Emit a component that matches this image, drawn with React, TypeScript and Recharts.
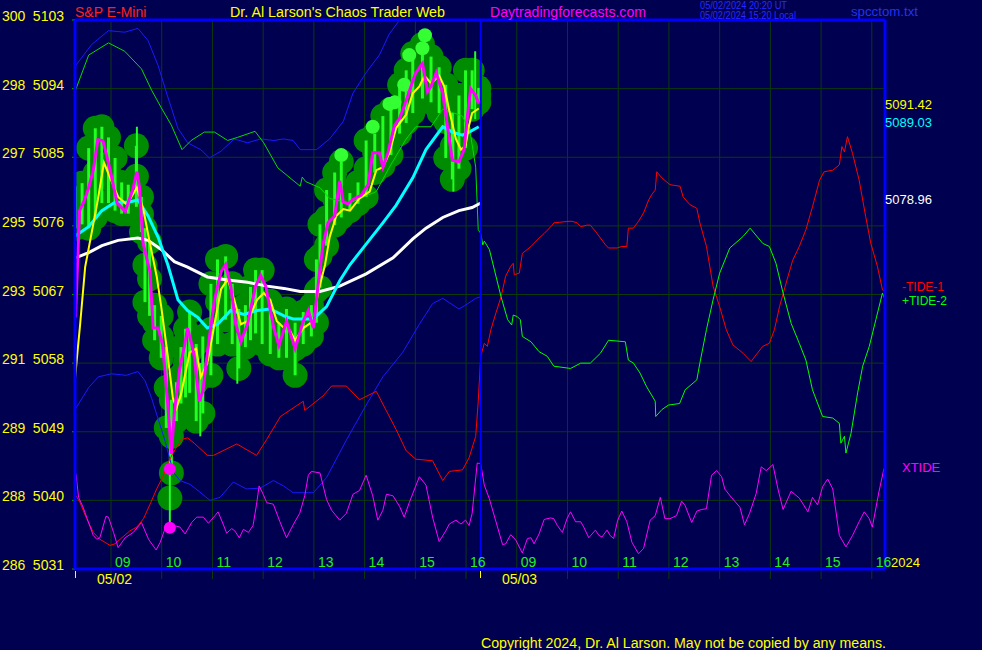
import {
  CartesianGrid,
  ComposedChart,
  ErrorBar,
  Line,
  ReferenceLine,
  Scatter,
  XAxis,
  YAxis,
} from "recharts";

document.body.style.margin = "0";
document.body.style.background = "#000050";

type Pt = [number, number];
type Range = [number, number, number]; // time, high, low

// time axis: hour slots, 0 = 09:00 on 05/02, 8 = 09:00 on 05/03
const HOUR_TICKS = [0, 1, 2, 3, 4, 5, 6, 7, 8, 9, 10, 11, 12, 13, 14, 15];
const HOUR_LABELS = ["09", "10", "11", "12", "13", "14", "15", "16", "09", "10", "11", "12", "13", "14", "15", "16"];
const PRICE_TICKS = [5031, 5040, 5049, 5058, 5067, 5076, 5085, 5094, 5103];
const ALT_TICKS = ["286", "288", "289", "291", "293", "295", "297", "298", "300"];
const X_MIN = -0.71;
const X_MAX = 15.26;
const NOW_T = 7.29;

const upperBlue: Pt[] = [
  [-0.7, 5097.0], [-0.38, 5099.8], [-0.05, 5101.6], [0.27, 5101.4], [0.53, 5101.9], [0.73, 5100.3],
  [0.93, 5097.0], [1.12, 5092.9], [1.32, 5088.8], [1.51, 5086.9], [1.77, 5086.0], [1.94, 5084.9],
  [2.17, 5085.8], [2.43, 5087.4], [2.69, 5086.9], [2.95, 5087.4], [3.21, 5087.2], [3.4, 5087.4],
  [3.59, 5087.2], [3.73, 5086.0], [4.05, 5086.0], [4.31, 5087.4], [4.58, 5089.7], [4.77, 5093.4],
  [5.03, 5096.1], [5.29, 5098.4], [5.49, 5101.2], [5.69, 5103.0], [5.9, 5105.5],
];

const lowerBlue: Pt[] = [
  [-0.7, 5052.0], [-0.44, 5054.8], [-0.25, 5056.2], [0.01, 5056.6], [0.3, 5056.4], [0.53, 5056.9],
  [0.67, 5055.7], [0.8, 5053.4], [1.06, 5047.9], [1.23, 5043.7], [1.36, 5042.6], [1.56, 5042.1],
  [1.75, 5041.1], [1.95, 5040.0], [2.15, 5040.4], [2.41, 5042.4], [2.67, 5041.5], [2.94, 5041.6],
  [3.2, 5042.6], [3.4, 5041.9], [3.59, 5041.0], [3.99, 5041.0], [4.25, 5043.0], [4.64, 5047.9],
  [5.03, 5052.5], [5.36, 5056.2], [5.75, 5059.4], [6.08, 5063.1], [6.34, 5065.8], [6.54, 5066.5],
  [6.86, 5065.1], [6.99, 5065.6], [7.19, 5066.5], [7.29, 5066.7],
];

const greenBand: Pt[] = [
  [-0.7, 5093.8], [-0.44, 5098.4], [-0.05, 5100.0], [0.27, 5098.9], [0.6, 5096.6], [0.8, 5093.8],
  [0.99, 5091.5], [1.19, 5089.2], [1.4, 5086.0], [1.58, 5087.2], [1.84, 5088.3], [2.04, 5088.3],
  [2.3, 5087.2], [2.49, 5087.6], [2.84, 5088.4], [3.01, 5086.9], [3.29, 5083.6], [3.73, 5081.2],
  [3.77, 5082.4], [3.84, 5081.8], [4.12, 5081.0], [4.31, 5079.6], [4.7, 5079.0], [5.23, 5080.5],
  [5.49, 5083.7], [5.82, 5087.4], [6.01, 5089.0], [6.31, 5089.0], [6.54, 5091.3], [6.93, 5090.4],
  [7.09, 5087.9], [7.19, 5083.7], [7.24, 5075.5], [7.29, 5075.0],
];

const redBand: Pt[] = [
  [-0.69, 5040.6], [-0.61, 5039.7], [-0.48, 5037.6], [-0.35, 5035.8], [-0.22, 5034.9], [-0.02, 5034.1],
  [0.08, 5034.3], [0.18, 5034.9], [0.37, 5036.0], [0.51, 5036.5], [0.64, 5037.6], [0.77, 5039.5],
  [0.9, 5041.5], [1.03, 5043.2], [1.13, 5045.0], [1.23, 5046.3], [1.39, 5048.0], [1.51, 5048.2],
  [1.64, 5047.5], [1.9, 5045.9], [2.02, 5045.9], [2.48, 5047.4], [2.87, 5045.9], [3.07, 5048.0],
  [3.34, 5051.0], [3.79, 5053.0], [3.82, 5051.8], [4.18, 5053.7], [4.35, 5055.0], [4.64, 5055.0],
  [4.9, 5053.2], [5.23, 5054.3], [5.62, 5049.3], [5.82, 5046.5], [6.01, 5045.4], [6.34, 5045.2],
  [6.54, 5042.6], [6.67, 5043.8], [6.93, 5044.0], [7.06, 5045.6], [7.19, 5048.4], [7.24, 5053.0],
  [7.29, 5058.9],
];

const tide1: Pt[] = [
  [7.29, 5058.9], [7.36, 5060.6], [7.42, 5060.2], [7.49, 5062.4], [7.59, 5064.6], [7.69, 5066.7],
  [7.78, 5069.4], [7.88, 5070.7], [7.93, 5071.1], [7.95, 5069.6], [8.05, 5069.8], [8.11, 5072.4],
  [8.28, 5073.3], [8.44, 5074.4], [8.54, 5075.0], [8.7, 5076.1], [8.73, 5076.4], [9.03, 5076.6],
  [9.09, 5076.6], [9.19, 5076.4], [9.26, 5075.9], [9.39, 5076.1], [9.45, 5076.1], [9.55, 5075.3],
  [9.75, 5073.5], [9.81, 5073.1], [9.98, 5073.1], [10.07, 5073.3], [10.17, 5073.3], [10.2, 5075.7],
  [10.3, 5075.7], [10.4, 5076.6], [10.5, 5077.7], [10.6, 5079.4], [10.66, 5080.1], [10.73, 5080.7],
  [10.76, 5083.1], [10.86, 5082.3], [11.02, 5081.4], [11.22, 5081.2], [11.28, 5079.8], [11.41, 5078.8],
  [11.55, 5078.3], [11.61, 5076.4], [11.74, 5073.3], [11.87, 5068.1], [12.0, 5065.4], [12.13, 5062.4],
  [12.26, 5060.4], [12.46, 5059.3], [12.62, 5058.2], [12.72, 5059.1], [12.85, 5060.2], [12.98, 5060.6],
  [13.08, 5062.4], [13.18, 5065.4], [13.31, 5068.5], [13.44, 5071.5], [13.57, 5073.3], [13.7, 5075.5],
  [13.83, 5078.5], [13.97, 5082.0], [14.06, 5083.1], [14.23, 5083.3], [14.36, 5084.0], [14.41, 5086.4],
  [14.46, 5085.7], [14.52, 5087.7], [14.62, 5085.5], [14.75, 5082.0], [14.88, 5077.2], [14.98, 5073.7],
  [15.11, 5070.7], [15.21, 5067.6], [15.26, 5067.4],
];

const tide2: Pt[] = [
  [7.29, 5075.0], [7.33, 5073.5], [7.36, 5074.0], [7.46, 5072.9], [7.56, 5070.2], [7.69, 5066.7],
  [7.82, 5063.7], [7.9, 5063.0], [7.93, 5064.3], [8.01, 5064.1], [8.07, 5063.7], [8.11, 5061.5],
  [8.28, 5060.8], [8.44, 5059.5], [8.6, 5058.9], [8.73, 5057.6], [9.06, 5057.3], [9.26, 5058.0],
  [9.45, 5058.0], [9.65, 5059.3], [9.81, 5061.0], [10.14, 5060.8], [10.2, 5058.4], [10.3, 5058.0],
  [10.43, 5056.7], [10.56, 5054.9], [10.73, 5053.0], [10.74, 5051.0], [10.86, 5051.9], [10.99, 5052.5],
  [11.21, 5052.7], [11.32, 5054.5], [11.55, 5055.8], [11.61, 5058.0], [11.74, 5062.4], [11.87, 5066.3],
  [12.0, 5069.8], [12.2, 5073.1], [12.46, 5074.6], [12.6, 5075.7], [12.85, 5073.7], [12.98, 5073.3],
  [13.11, 5071.1], [13.25, 5067.2], [13.41, 5063.2], [13.57, 5060.6], [13.7, 5058.4], [13.83, 5054.5],
  [14.03, 5051.0], [14.23, 5050.8], [14.36, 5050.1], [14.39, 5047.5], [14.46, 5048.4], [14.49, 5046.2],
  [14.59, 5048.8], [14.72, 5054.1], [14.82, 5057.6], [14.95, 5060.2], [15.08, 5063.7], [15.21, 5067.2],
  [15.26, 5066.3],
];

const xtide: Pt[] = [
  [-0.69, 5043.5], [-0.64, 5040.4], [-0.55, 5039.1], [-0.47, 5037.6], [-0.35, 5035.4], [-0.28, 5034.9],
  [-0.22, 5035.1], [-0.1, 5037.9], [-0.05, 5037.8], [0.05, 5035.8], [0.14, 5033.8], [0.28, 5035.1],
  [0.44, 5035.8], [0.6, 5037.1], [0.74, 5034.9], [0.89, 5033.5], [0.97, 5034.5], [1.06, 5036.2],
  [1.16, 5036.6], [1.23, 5036.7], [1.36, 5036.5], [1.46, 5035.6], [1.59, 5037.1], [1.69, 5037.8],
  [1.82, 5037.8], [1.92, 5037.0], [2.05, 5038.0], [2.11, 5038.5], [2.21, 5036.9], [2.28, 5035.7],
  [2.38, 5036.3], [2.44, 5036.0], [2.53, 5035.1], [2.61, 5036.2], [2.71, 5035.8], [2.8, 5036.7],
  [2.87, 5039.5], [2.92, 5041.9], [3.0, 5040.8], [3.07, 5039.7], [3.2, 5039.5], [3.33, 5037.2],
  [3.46, 5035.1], [3.6, 5036.9], [3.72, 5038.3], [3.82, 5040.6], [3.89, 5043.3], [3.95, 5043.8],
  [4.12, 5043.6], [4.25, 5040.1], [4.35, 5038.7], [4.51, 5037.4], [4.64, 5038.3], [4.77, 5040.8],
  [4.9, 5041.3], [5.03, 5043.3], [5.16, 5040.6], [5.26, 5037.4], [5.36, 5038.7], [5.43, 5040.8],
  [5.56, 5040.6], [5.69, 5039.2], [5.78, 5037.8], [5.88, 5039.7], [6.08, 5043.1], [6.21, 5042.0],
  [6.34, 5037.8], [6.47, 5034.6], [6.6, 5036.0], [6.67, 5036.9], [6.8, 5037.4], [6.9, 5036.9],
  [6.99, 5037.4], [7.06, 5036.7], [7.12, 5038.3], [7.22, 5044.9], [7.29, 5044.8], [7.36, 5042.0],
  [7.46, 5040.2], [7.59, 5037.2], [7.72, 5034.2], [7.78, 5034.3], [7.88, 5035.5], [7.98, 5034.8],
  [8.11, 5033.1], [8.21, 5035.0], [8.28, 5035.1], [8.34, 5034.3], [8.44, 5035.6], [8.54, 5037.5],
  [8.67, 5037.7], [8.73, 5037.6], [8.8, 5036.7], [8.9, 5035.8], [8.99, 5037.6], [9.06, 5038.5],
  [9.16, 5037.2], [9.26, 5037.2], [9.32, 5036.5], [9.42, 5035.1], [9.55, 5036.1], [9.62, 5035.4],
  [9.68, 5035.2], [9.78, 5036.1], [9.84, 5035.4], [9.91, 5035.0], [9.99, 5037.4], [10.07, 5038.6],
  [10.17, 5037.2], [10.27, 5034.5], [10.4, 5033.0], [10.5, 5033.7], [10.63, 5037.4], [10.73, 5038.0],
  [10.83, 5040.4], [10.92, 5037.6], [11.02, 5037.6], [11.15, 5038.0], [11.25, 5039.9], [11.32, 5039.3],
  [11.45, 5037.1], [11.55, 5038.6], [11.64, 5038.8], [11.74, 5038.9], [11.84, 5043.3], [11.94, 5043.9],
  [12.04, 5043.1], [12.1, 5041.5], [12.23, 5040.4], [12.4, 5039.1], [12.49, 5036.8], [12.59, 5038.3],
  [12.72, 5040.9], [12.82, 5044.4], [12.92, 5043.9], [13.05, 5044.7], [13.15, 5041.5], [13.25, 5038.8],
  [13.41, 5041.2], [13.57, 5040.3], [13.74, 5038.5], [13.83, 5040.4], [13.93, 5039.4], [14.03, 5041.8],
  [14.13, 5042.8], [14.23, 5041.5], [14.36, 5035.4], [14.49, 5033.9], [14.62, 5035.4], [14.75, 5037.2],
  [14.85, 5038.5], [14.95, 5037.6], [15.01, 5036.5], [15.14, 5041.1], [15.24, 5044.2],
];

const whiteAvg: Pt[] = [
  [-0.7, 5071.8], [-0.44, 5072.5], [-0.18, 5073.4], [0.14, 5074.1], [0.53, 5074.4], [0.73, 5074.1],
  [0.99, 5072.9], [1.25, 5071.3], [1.51, 5070.6], [1.9, 5069.3], [2.3, 5068.9], [2.69, 5068.6],
  [3.08, 5068.1], [3.41, 5067.8], [3.73, 5067.4], [4.12, 5067.4], [4.51, 5068.1], [5.03, 5069.7],
  [5.56, 5071.8], [5.95, 5074.3], [6.21, 5075.7], [6.54, 5077.1], [6.86, 5078.0], [7.12, 5078.4],
  [7.29, 5079.0],
];

const cyanAvg: Pt[] = [
  [-0.7, 5074.7], [-0.44, 5075.9], [-0.18, 5078.0], [0.08, 5079.1], [0.34, 5079.1], [0.53, 5079.4],
  [0.73, 5077.3], [0.93, 5074.5], [1.12, 5070.9], [1.32, 5066.3], [1.51, 5064.9], [1.71, 5064.0],
  [1.9, 5062.6], [2.1, 5063.1], [2.36, 5064.9], [2.62, 5064.4], [2.88, 5064.9], [3.14, 5065.1],
  [3.41, 5064.2], [3.59, 5063.8], [3.99, 5063.8], [4.25, 5065.4], [4.51, 5068.8], [4.71, 5070.9],
  [5.03, 5073.6], [5.36, 5076.4], [5.62, 5078.7], [5.95, 5082.3], [6.21, 5086.0], [6.54, 5089.0],
  [6.73, 5088.3], [6.93, 5087.9], [7.06, 5088.3], [7.25, 5089.0],
];

const yellowAvg: Pt[] = [
  [-0.71, 5056.0], [-0.61, 5063.0], [-0.51, 5070.6], [-0.37, 5075.5], [-0.26, 5079.4], [-0.14, 5084.3],
  [-0.06, 5083.0], [0.14, 5079.8], [0.31, 5078.8], [0.51, 5081.0], [0.64, 5078.1], [0.74, 5074.6],
  [0.9, 5069.4], [0.99, 5065.4], [1.12, 5058.9], [1.22, 5053.4], [1.29, 5052.1], [1.38, 5053.9],
  [1.55, 5059.4], [1.68, 5059.9], [1.77, 5056.2], [1.9, 5058.0], [2.04, 5063.1], [2.17, 5067.7],
  [2.3, 5069.0], [2.43, 5066.3], [2.56, 5063.1], [2.69, 5063.5], [2.88, 5066.3], [3.01, 5067.2],
  [3.14, 5066.3], [3.27, 5063.5], [3.41, 5062.6], [3.46, 5063.1], [3.63, 5061.0], [3.79, 5062.6],
  [3.99, 5063.5], [4.08, 5067.2], [4.22, 5070.9], [4.31, 5074.5], [4.44, 5077.3], [4.58, 5078.2],
  [4.71, 5078.0], [4.9, 5079.6], [5.1, 5080.5], [5.23, 5083.3], [5.36, 5083.7], [5.49, 5085.6],
  [5.62, 5088.8], [5.82, 5090.6], [5.95, 5093.4], [6.08, 5094.3], [6.18, 5095.7], [6.31, 5094.7],
  [6.47, 5095.7], [6.57, 5094.3], [6.67, 5091.1], [6.8, 5087.4], [6.9, 5086.0], [6.99, 5086.5],
  [7.06, 5089.2], [7.12, 5090.8], [7.25, 5091.4],
];

const magentaAvg: Pt[] = [
  [-0.7, 5064.0], [-0.62, 5078.0], [-0.54, 5079.1], [-0.44, 5081.0], [-0.35, 5083.3], [-0.26, 5087.3],
  [-0.16, 5087.2], [-0.02, 5083.4], [0.12, 5079.0], [0.28, 5077.9], [0.43, 5080.8], [0.51, 5083.1],
  [0.56, 5081.1], [0.63, 5073.8], [0.77, 5069.9], [0.83, 5062.6], [0.93, 5062.6], [1.02, 5060.3],
  [1.12, 5052.5], [1.19, 5046.1], [1.25, 5051.6], [1.35, 5057.1], [1.45, 5060.3], [1.51, 5062.6],
  [1.58, 5060.8], [1.64, 5058.9], [1.74, 5053.0], [1.81, 5054.3], [1.9, 5059.4], [2.04, 5066.3],
  [2.17, 5070.0], [2.26, 5070.9], [2.36, 5068.1], [2.46, 5063.1], [2.56, 5060.8], [2.69, 5063.1],
  [2.85, 5068.1], [2.95, 5069.5], [3.05, 5068.1], [3.21, 5062.6], [3.31, 5060.3], [3.46, 5063.5],
  [3.63, 5059.9], [3.79, 5063.5], [3.89, 5064.9], [3.99, 5062.6], [4.08, 5068.1], [4.18, 5073.6],
  [4.28, 5076.4], [4.41, 5077.3], [4.51, 5081.9], [4.58, 5079.1], [4.67, 5078.9], [4.8, 5079.6],
  [4.93, 5080.0], [5.07, 5081.4], [5.16, 5085.6], [5.29, 5085.6], [5.36, 5083.7], [5.46, 5085.6],
  [5.59, 5089.2], [5.69, 5090.1], [5.82, 5092.4], [5.95, 5095.0], [6.01, 5096.1], [6.14, 5097.3],
  [6.24, 5093.6], [6.31, 5094.3], [6.41, 5096.1], [6.54, 5093.4], [6.63, 5089.2], [6.73, 5084.6],
  [6.86, 5084.4], [6.96, 5086.0], [7.03, 5090.6], [7.09, 5094.0], [7.19, 5093.1], [7.25, 5092.0],
];

// price bars: time, high, low
const priceBars: Range[] = [
  [-0.7, 5081.2, 5075.7], [-0.57, 5081.6, 5076.2], [-0.44, 5086.2, 5075.7], [-0.31, 5088.8, 5077.1],
  [-0.18, 5089.0, 5079.0], [-0.05, 5087.6, 5079.0], [0.08, 5084.9, 5078.0], [0.21, 5081.7, 5077.6],
  [0.34, 5081.4, 5077.6], [0.5, 5086.5, 5078.5], [0.6, 5079.8, 5075.2], [0.67, 5075.7, 5066.0],
  [0.76, 5073.9, 5064.2], [0.86, 5065.6, 5061.0], [0.99, 5064.2, 5058.7], [1.09, 5060.1, 5049.5],
  [1.19, 5053.2, 5043.6], [1.29, 5055.5, 5050.4], [1.38, 5060.1, 5052.7], [1.47, 5062.5, 5053.5],
  [1.55, 5064.7, 5054.1], [1.68, 5060.5, 5050.4], [1.81, 5061.5, 5051.4], [1.97, 5068.4, 5056.4],
  [2.1, 5071.6, 5060.5], [2.26, 5072.0, 5063.7], [2.39, 5068.4, 5060.5], [2.52, 5065.1, 5057.3],
  [2.65, 5065.6, 5060.1], [2.75, 5068.0, 5061.0], [2.85, 5070.2, 5061.9], [2.98, 5070.2, 5060.5],
  [3.14, 5066.1, 5059.2], [3.31, 5063.3, 5058.7], [3.46, 5065.1, 5058.7], [3.63, 5063.3, 5056.4],
  [3.79, 5064.7, 5060.5], [3.95, 5065.6, 5061.5], [4.05, 5071.6, 5063.3], [4.12, 5076.2, 5067.9],
  [4.25, 5080.7, 5073.4], [4.41, 5083.0, 5076.1], [4.54, 5084.4, 5077.1], [4.71, 5080.3, 5078.0],
  [4.87, 5081.7, 5078.9], [5.03, 5087.2, 5079.8], [5.2, 5088.1, 5083.0], [5.36, 5090.4, 5083.9],
  [5.52, 5091.3, 5085.3], [5.69, 5094.5, 5088.1], [5.82, 5096.4, 5089.5], [5.95, 5098.6, 5090.8],
  [6.14, 5099.8, 5092.7], [6.31, 5098.2, 5092.2], [6.47, 5096.8, 5090.8], [6.6, 5094.5, 5084.9],
  [6.73, 5090.8, 5082.1], [6.86, 5093.1, 5083.5], [6.99, 5096.4, 5086.2], [7.12, 5096.4, 5091.3],
  [7.25, 5094.1, 5092.2],
];

const spikes: Range[] = [
  [0.51, 5089.0, 5080.0], [1.16, 5048.3, 5036.4], [1.76, 5058.0, 5048.4], [2.49, 5062.0, 5055.3],
  [6.75, 5088.0, 5080.5], [7.18, 5098.9, 5090.0],
];

const highMarks: Pt[] = [
  [4.54, 5085.3], [5.16, 5089.0], [5.49, 5092.0], [5.59, 5092.2], [5.78, 5094.5], [5.88, 5098.4],
  [6.14, 5099.3], [6.19, 5101.0],
];

const lowBall: Pt[] = [[1.16, 5040.3]];
const lowDots: Pt[] = [[1.16, 5044.1], [1.16, 5036.4]];

const NAVY = "#000050";
const GRID = "#0b3a0b";
const BORDER = "#0000ff";
const FONT = "'Liberation Sans', Arial, sans-serif";

const rows = (pts: Pt[]) => pts.map(([t, v]) => ({ t, v }));
const rangeRows = (list: Range[]) =>
  list.map(([t, hi, lo]) => ({ t, v: (hi + lo) / 2, e: (hi - lo) / 2 }));
const ballRows = priceBars.flatMap(([t, hi, lo]) => [
  { t, v: hi },
  { t, v: (hi + lo) / 2 },
  { t, v: lo },
]);

const PriceTick = (props: any) => {
  const { y, payload } = props;
  const i = PRICE_TICKS.indexOf(payload.value);
  return (
    <g fill="#ffff00" fontSize={14} fontFamily={FONT}>
      <text x={2} y={y + 1}>{ALT_TICKS[i]}</text>
      <text x={64} y={y + 1} textAnchor="end">{payload.value}</text>
    </g>
  );
};

const HourTick = (props: any) => {
  const { x, payload } = props;
  return (
    <text x={x + 4} y={567} fill="#22ee22" fontSize={14} fontFamily={FONT}>
      {HOUR_LABELS[payload.value]}
    </text>
  );
};

const hidden = () => <g />;

export default function App() {
  const line = (pts: Pt[], stroke: string, width: number) => (
    <Line
      data={rows(pts)}
      dataKey="v"
      type="linear"
      stroke={stroke}
      strokeWidth={width}
      dot={false}
      activeDot={false}
      isAnimationActive={false}
    />
  );

  return (
    <div style={{ position: "relative", width: 982, height: 650, background: NAVY, fontFamily: FONT }}>
      <ComposedChart width={982} height={650} margin={{ top: 20, right: 97, bottom: 51, left: 15 }}>
        <CartesianGrid stroke={GRID} strokeWidth={1} />
        <XAxis
          type="number"
          dataKey="t"
          domain={[X_MIN, X_MAX]}
          ticks={HOUR_TICKS}
          interval={0}
          allowDataOverflow
          height={30}
          axisLine={false}
          tickLine={{ stroke: GRID }}
          tickSize={10}
          tick={HourTick}
        />
        <YAxis
          type="number"
          dataKey="v"
          domain={[5031, 5103]}
          ticks={PRICE_TICKS}
          interval={0}
          allowDataOverflow
          width={60}
          axisLine={false}
          tickLine={{ stroke: "#00a000" }}
          tickSize={3}
          tick={PriceTick}
        />

        <Scatter
          data={ballRows}
          dataKey="v"
          zIndex={150}
          isAnimationActive={false}
          shape={(p: any) => <circle cx={p.cx} cy={p.cy} r={12.5} fill="#008c00" />}
        />
        <Scatter
          data={rows(lowBall)}
          dataKey="v"
          zIndex={150}
          isAnimationActive={false}
          shape={(p: any) => <circle cx={p.cx} cy={p.cy} r={12.5} fill="#008c00" />}
        />
        <Scatter data={rangeRows(priceBars)} dataKey="v" zIndex={160} isAnimationActive={false} shape={hidden}>
          <ErrorBar dataKey="e" direction="y" width={0} stroke="#22ff22" strokeWidth={3} isAnimationActive={false} zIndex={160} />
        </Scatter>
        <Scatter data={rangeRows(spikes)} dataKey="v" zIndex={160} isAnimationActive={false} shape={hidden}>
          <ErrorBar dataKey="e" direction="y" width={0} stroke="#22ff22" strokeWidth={2} isAnimationActive={false} zIndex={160} />
        </Scatter>
        <Scatter
          data={rows(highMarks)}
          dataKey="v"
          zIndex={170}
          isAnimationActive={false}
          shape={(p: any) => <circle cx={p.cx} cy={p.cy} r={7} fill="#33ff33" />}
        />

        {line(upperBlue, "#1a1aff", 1)}
        {line(lowerBlue, "#1a1aff", 1)}
        {line(greenBand, "#00dd00", 1)}
        {line(redBand, "#ff0000", 1)}
        {line(xtide, "#ff00ff", 1)}
        {line(tide1, "#ff0000", 1)}
        {line(tide2, "#00ff00", 1)}
        {line(whiteAvg, "#ffffff", 3)}
        {line(cyanAvg, "#00ffff", 3)}
        {line(yellowAvg, "#ffff00", 2)}
        {line(magentaAvg, "#ff00ff", 3)}

        <Scatter
          data={rows(lowDots)}
          dataKey="v"
          zIndex={650}
          isAnimationActive={false}
          shape={(p: any) => <circle cx={p.cx} cy={p.cy} r={6} fill="#ff00ff" />}
        />

        <ReferenceLine x={NOW_T} stroke={BORDER} strokeWidth={2} zIndex={700} />
        <ReferenceLine x={X_MIN} stroke={BORDER} strokeWidth={3} zIndex={700} />
        <ReferenceLine x={X_MAX} stroke={BORDER} strokeWidth={3} zIndex={700} />
        <ReferenceLine y={5103} stroke={BORDER} strokeWidth={3} zIndex={700} />
        <ReferenceLine y={5031} stroke={BORDER} strokeWidth={3} zIndex={700} />
      </ComposedChart>

      <svg
        width={982}
        height={650}
        style={{ position: "absolute", left: 0, top: 0, pointerEvents: "none" }}
        fontFamily={FONT}
      >
        <text x={75} y={17} fill="#ff2020" fontSize={14}>S&amp;P E-Mini</text>
        <text x={230} y={17} fill="#ffff00" fontSize={14} textLength={215} lengthAdjust="spacingAndGlyphs">
          Dr. Al Larson's Chaos Trader Web
        </text>
        <text x={490} y={17} fill="#ff00ff" fontSize={14} textLength={156} lengthAdjust="spacingAndGlyphs">
          Daytradingforecasts.com
        </text>
        <text x={700} y={9} fill="#2a2aff" fontSize={10} textLength={87} lengthAdjust="spacingAndGlyphs">
          05/02/2024 20:20 UT
        </text>
        <text x={700} y={19} fill="#2a2aff" fontSize={10} textLength={96} lengthAdjust="spacingAndGlyphs">
          05/02/2024 15:20 Local
        </text>
        <text x={851} y={16} fill="#2233ee" fontSize={13} textLength={67} lengthAdjust="spacingAndGlyphs">
          spcctom.txt
        </text>

        <text x={885} y={109} fill="#ffff00" fontSize={13}>5091.42</text>
        <text x={885} y={127} fill="#00ffff" fontSize={13}>5089.03</text>
        <text x={885} y={204} fill="#ffffff" fontSize={13}>5078.96</text>
        <text x={902} y={291} fill="#ff0000" fontSize={12}>-TIDE-1</text>
        <text x={902} y={305} fill="#00ff00" fontSize={12}>+TIDE-2</text>
        <text x={902} y={472} fill="#ff00ff" fontSize={13}>XTIDE</text>
        <text x={891} y={567} fill="#ffff00" fontSize={13}>2024</text>

        <line x1={75.5} y1={571} x2={75.5} y2={578} stroke="#ffff00" strokeWidth={1} />
        <line x1={480.5} y1={571} x2={480.5} y2={578} stroke="#ffff00" strokeWidth={1} />
        <text x={97} y={584} fill="#ffff00" fontSize={14}>05/02</text>
        <text x={502} y={584} fill="#ffff00" fontSize={14}>05/03</text>

        <text x={481} y={648} fill="#ffff00" fontSize={14} textLength={405} lengthAdjust="spacingAndGlyphs">
          Copyright 2024, Dr. Al Larson. May not be copied by any means.
        </text>
      </svg>
    </div>
  );
}
